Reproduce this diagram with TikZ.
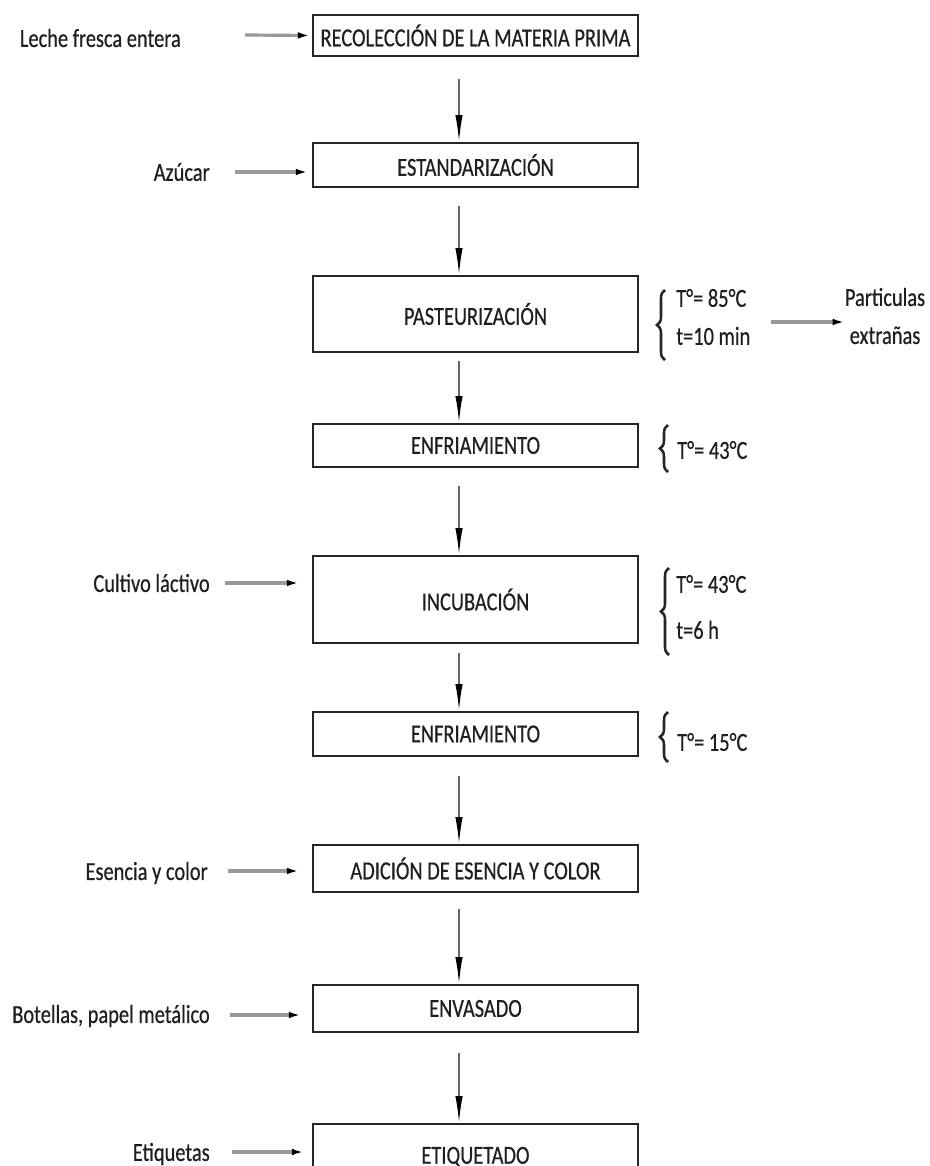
\documentclass[tikz,border=0pt]{standalone}
\usepackage{fontspec}
\setmainfont{Carlito}[FakeStretch=0.785,FakeBold=0.5]
\usetikzlibrary{arrows.meta,decorations.pathreplacing}

\begin{document}
\begin{tikzpicture}[x=0.75pt,y=-0.75pt,
  txt/.style={font=\fontsize{19.5}{28.5}\selectfont, text=black!88, inner sep=0pt},
  stage/.style={txt, draw=black!85, line width=1.7pt, minimum width=243.75pt, anchor=center},
  flow/.style={draw=black!60, line width=1.2pt, -{Latex[length=20pt,width=5.5pt,color=black]}},
  feed/.style={draw=black!40, line width=2.4pt, -{Latex[length=9pt,width=5pt,color=black]}},
  curly/.style={draw=black!85, line width=1.9pt, decorate, decoration={brace, amplitude=6pt}}]

\path[use as bounding box] (0,0) rectangle (929,1166);
\fill[white] (0,0) rectangle (929,1166);
\clip (0,0) rectangle (929,1166);

% process stages
\node[stage, minimum height=30.75pt] (b1) at (475.5,35.5)  {RECOLECCIÓN DE LA MATERIA PRIMA};
\node[stage, minimum height=33pt]    (b2) at (475.5,165)   {ESTANDARIZACIÓN};
\node[stage, minimum height=57pt]    (b3) at (475.5,314)   {PASTEURIZACIÓN};
\node[stage, minimum height=32.25pt] (b4) at (475.5,445.5) {ENFRIAMIENTO};
\node[stage, minimum height=65.25pt] (b5) at (475.5,599.5) {INCUBACIÓN};
\node[stage, minimum height=33pt]    (b6) at (475.5,734)   {ENFRIAMIENTO};
\node[stage, minimum height=35.25pt] (b7) at (475.5,868.5) {ADICIÓN DE ESENCIA Y COLOR};
\node[stage, minimum height=35.25pt] (b8) at (475.5,1008.5){ENVASADO};
\node[stage, minimum height=49.5pt]  (b9) at (475.5,1157)  {ETIQUETADO};

% main flow
\draw[flow] ([shift={(-16.5,22)}]b1.south) -- ([shift={(-16.5,0)}]b2.north);
\draw[flow] ([shift={(-16.5,18)}]b2.south) -- ([shift={(-16.5,0)}]b3.north);
\draw[flow] ([shift={(-16.5,8)}]b3.south)  -- ([shift={(-16.5,0)}]b4.north);
\draw[flow] ([shift={(-16.5,18)}]b4.south) -- ([shift={(-16.5,0)}]b5.north);
\draw[flow] ([shift={(-16.5,9)}]b5.south)  -- ([shift={(-16.5,0)}]b6.north);
\draw[flow] ([shift={(-16.5,19)}]b6.south) -- ([shift={(-16.5,0)}]b7.north);
\draw[flow] ([shift={(-16.5,16)}]b7.south) -- ([shift={(-16.5,0)}]b8.north);
\draw[flow] ([shift={(-16.5,20)}]b8.south) -- ([shift={(-16.5,0)}]b9.north);

% inputs
\node[txt, anchor=east] (l1) at (181,38)   {Leche fresca entera};
\node[txt, anchor=east] (l2) at (210,172)  {Azúcar};
\node[txt, anchor=east] (l3) at (210,583)  {Cultivo láctivo};
\node[txt, anchor=east] (l4) at (208,873)  {Esencia y color};
\node[txt, anchor=east] (l5) at (210,1016) {Botellas, papel metálico};
\node[txt, anchor=east] (l6) at (210,1154) {Etiquetas};

\draw[feed] ([shift={(64,-3)}]l1.east) -- ([shift={(-2,0)}]b1.west);
\draw[feed] ([shift={(25,0)}]l2.east)  -- ([shift={(-4,0)}]l2.east -| b2.west);
\draw[feed] ([shift={(15,0)}]l3.east)  -- ([shift={(-13,0)}]l3.east -| b5.west);
\draw[feed] ([shift={(20,-2)}]l4.east) -- ([shift={(-13,-2)}]l4.east -| b7.west);
\draw[feed] ([shift={(20,-1)}]l5.east) -- ([shift={(-11,-1)}]l5.east -| b8.west);
\draw[feed] ([shift={(22,-2)}]l6.east) -- ([shift={(-8,-2)}]l6.east -| b9.west);

% operating conditions
\node[txt, anchor=west, align=left] (c3) at (676,317) {T°= 85°C\\t=10 min};
\node[txt, anchor=west] (c4) at (677,450) {T°= 43°C};
\node[txt, anchor=west, align=left, font=\fontsize{19.5}{34.5}\selectfont] (c5) at (676,607) {T°= 43°C\\t=6 h};
\node[txt, anchor=west] (c6) at (677,742) {T°= 15°C};

\draw[curly] ([shift={(-11,43)}]c3.west) -- ([shift={(-11,-27)}]c3.west);
\draw[curly] ([shift={(-9,22)}]c4.west)  -- ([shift={(-9,-25)}]c4.west);
\draw[curly] ([shift={(-7,48)}]c5.west)  -- ([shift={(-7,-39)}]c5.west);
\draw[curly] ([shift={(-9,20)}]c6.west)  -- ([shift={(-9,-30)}]c6.west);

% output
\node[txt, align=center] (o1) at (885,316) {Particulas\\extrañas};
\draw[feed] ([shift={(-74,6)}]o1.west) -- ([shift={(0,6)}]o1.west);

\end{tikzpicture}
\end{document}
